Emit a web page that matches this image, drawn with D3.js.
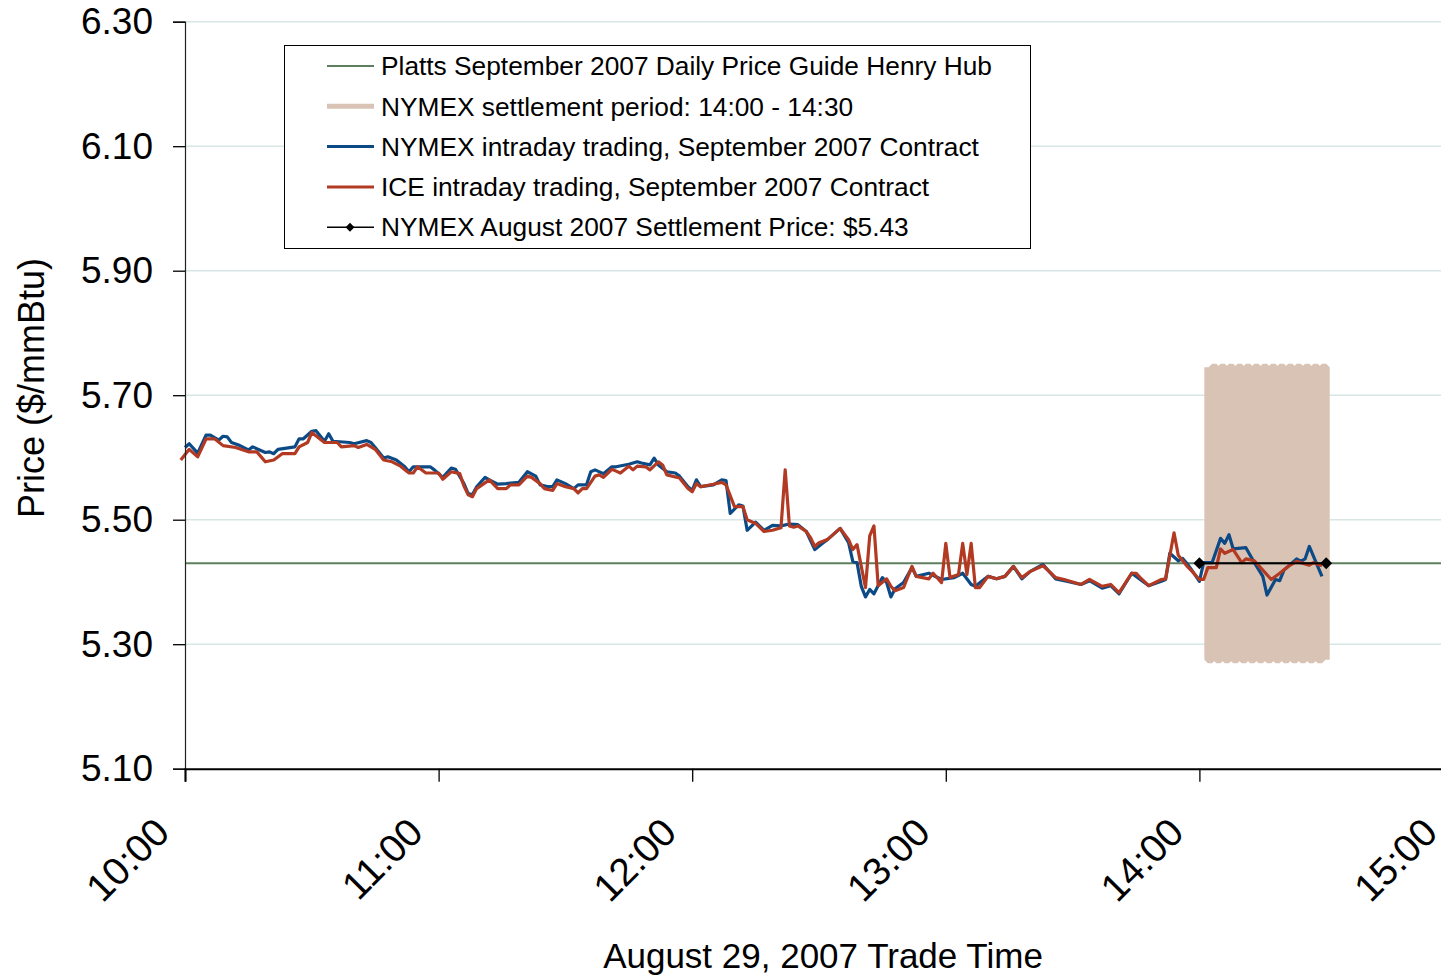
<!DOCTYPE html>
<html>
<head>
<meta charset="utf-8">
<script src="https://cdn.jsdelivr.net/npm/d3@7"></script>
<style>
  body { margin: 0; background: #fff; }
  svg { display: block; font-family: "Liberation Sans", Arial, sans-serif; }
</style>
</head>
<body>
<svg id="chart" width="1441" height="977"></svg>
<script>
// ---- data ----
var yTicks = [5.10, 5.30, 5.50, 5.70, 5.90, 6.10, 6.30];
var xTicks = ["10:00", "11:00", "12:00", "13:00", "14:00", "15:00"];

var plattsPrice = 5.43;
var augSettle = 5.43;
var settleTimes = ["14:00", "14:30"];

// NYMEX intraday trading, September 2007 Contract
var nymexTimes = ["10:00","10:01","10:03","10:05","10:06","10:08","10:09","10:10","10:11","10:13","10:15","10:16","10:19","10:20","10:21","10:22","10:26","10:27","10:28","10:30","10:31","10:33","10:34","10:35","10:39","10:40","10:43","10:44","10:45","10:47","10:48","10:50","10:52","10:53","10:54","10:58","10:59","11:01","11:03","11:04","11:06","11:07","11:08","11:09","11:11","11:12","11:14","11:16","11:19","11:21","11:23","11:24","11:26","11:27","11:28","11:30","11:32","11:33","11:35","11:36","11:37","11:39","11:41","11:42","11:45","11:47","11:48","11:50","11:51","11:52","11:54","11:56","11:57","11:59","12:00","12:01","12:02","12:05","12:07","12:08","12:09","12:11","12:12","12:13","12:15","12:17","12:19","12:21","12:23","12:25","12:27","12:29","12:31","12:32","12:35","12:37","12:38","12:39","12:40","12:41","12:42","12:43","12:45","12:46","12:47","12:48","12:50","12:52","12:53","12:56","12:59","13:02","13:04","13:06","13:07","13:10","13:12","13:14","13:16","13:18","13:20","13:23","13:26","13:28","13:32","13:34","13:37","13:39","13:41","13:44","13:46","13:48","13:51","13:52","13:53","13:55","13:56","13:57","13:58","14:00","14:01","14:03","14:05","14:06","14:07","14:08","14:11","14:13","14:15","14:16","14:18","14:19","14:20","14:23","14:24","14:25","14:26","14:29"];
var nymexPrices = [5.616,5.622,5.607,5.636,5.636,5.628,5.634,5.633,5.624,5.619,5.612,5.617,5.608,5.609,5.606,5.613,5.617,5.630,5.630,5.642,5.643,5.626,5.638,5.626,5.624,5.622,5.627,5.624,5.616,5.599,5.601,5.596,5.585,5.577,5.585,5.585,5.580,5.568,5.583,5.581,5.558,5.542,5.540,5.553,5.568,5.564,5.557,5.558,5.560,5.577,5.570,5.556,5.553,5.553,5.564,5.558,5.550,5.556,5.556,5.577,5.580,5.574,5.585,5.585,5.589,5.593,5.591,5.588,5.599,5.588,5.577,5.575,5.570,5.553,5.547,5.564,5.553,5.556,5.564,5.563,5.510,5.524,5.522,5.483,5.496,5.483,5.491,5.490,5.493,5.492,5.481,5.452,5.463,5.468,5.486,5.463,5.433,5.431,5.393,5.376,5.388,5.381,5.407,5.399,5.376,5.389,5.399,5.423,5.409,5.414,5.404,5.407,5.414,5.396,5.393,5.409,5.405,5.409,5.425,5.405,5.417,5.428,5.405,5.402,5.396,5.402,5.390,5.394,5.381,5.414,5.404,5.394,5.401,5.404,5.446,5.434,5.438,5.430,5.421,5.401,5.431,5.431,5.470,5.462,5.476,5.453,5.455,5.431,5.409,5.379,5.404,5.402,5.419,5.437,5.433,5.437,5.457,5.409];

// ICE intraday trading, September 2007 Contract
var iceTimes = ["09:59","10:01","10:03","10:05","10:07","10:09","10:12","10:15","10:17","10:19","10:21","10:23","10:26","10:27","10:29","10:30","10:33","10:36","10:37","10:40","10:41","10:43","10:45","10:47","10:49","10:51","10:53","10:54","10:55","10:57","11:00","11:01","11:03","11:05","11:06","11:07","11:08","11:09","11:12","11:14","11:16","11:17","11:19","11:21","11:22","11:24","11:25","11:27","11:28","11:30","11:32","11:33","11:34","11:35","11:37","11:38","11:39","11:41","11:42","11:43","11:45","11:46","11:47","11:49","11:50","11:52","11:53","11:54","11:57","11:59","12:00","12:01","12:02","12:05","12:07","12:08","12:10","12:12","12:13","12:15","12:17","12:19","12:21","12:22","12:23","12:24","12:25","12:27","12:28","12:29","12:30","12:32","12:35","12:37","12:38","12:39","12:40","12:41","12:42","12:43","12:44","12:46","12:47","12:48","12:50","12:52","12:53","12:56","12:57","12:59","13:00","13:01","13:03","13:04","13:05","13:06","13:07","13:08","13:10","13:12","13:14","13:16","13:18","13:20","13:23","13:26","13:28","13:32","13:34","13:37","13:39","13:41","13:44","13:45","13:46","13:48","13:51","13:52","13:54","13:55","13:57","13:58","14:00","14:01","14:02","14:04","14:05","14:06","14:08","14:10","14:11","14:13","14:15","14:17","14:19","14:21","14:23","14:24","14:26","14:27","14:29"];
var icePrices = [5.596,5.613,5.601,5.630,5.630,5.619,5.616,5.609,5.609,5.593,5.596,5.606,5.606,5.617,5.624,5.640,5.624,5.624,5.617,5.619,5.616,5.621,5.613,5.596,5.593,5.586,5.575,5.575,5.585,5.575,5.575,5.565,5.577,5.574,5.554,5.540,5.537,5.550,5.564,5.550,5.550,5.556,5.556,5.570,5.568,5.558,5.550,5.547,5.558,5.553,5.550,5.543,5.550,5.550,5.570,5.572,5.568,5.581,5.578,5.575,5.586,5.580,5.586,5.585,5.580,5.593,5.588,5.572,5.567,5.550,5.545,5.558,5.553,5.557,5.560,5.556,5.521,5.521,5.500,5.494,5.481,5.483,5.487,5.580,5.490,5.488,5.490,5.481,5.471,5.457,5.463,5.468,5.486,5.468,5.452,5.460,5.425,5.391,5.474,5.490,5.394,5.405,5.393,5.386,5.391,5.425,5.409,5.405,5.414,5.399,5.462,5.407,5.412,5.462,5.412,5.462,5.391,5.391,5.409,5.405,5.409,5.425,5.407,5.417,5.426,5.407,5.404,5.396,5.404,5.393,5.396,5.383,5.414,5.414,5.407,5.394,5.404,5.405,5.479,5.443,5.426,5.419,5.404,5.404,5.423,5.423,5.453,5.446,5.452,5.431,5.437,5.434,5.419,5.404,5.414,5.425,5.433,5.431,5.427,5.431,5.426];

// NYMEX settlement period 14:00 - 14:30 (drawn as a dense square wave of vertical strokes)
var bandTimes = ["14:02","14:02","14:03","14:03","14:04","14:04","14:05","14:05","14:06","14:06","14:07","14:07","14:08","14:08","14:09","14:09","14:10","14:10","14:11","14:11","14:12","14:12","14:13","14:13","14:14","14:14","14:15","14:15","14:16","14:16","14:17","14:17","14:18","14:18","14:19","14:19","14:20","14:20","14:21","14:21","14:22","14:22","14:23","14:23","14:24","14:24","14:25","14:25","14:26","14:26","14:27","14:27","14:28","14:28","14:29","14:29","14:30","14:30"];
var bandPrices = [5.745,5.275,5.275,5.745,5.745,5.275,5.275,5.745,5.745,5.275,5.275,5.745,5.745,5.275,5.275,5.745,5.745,5.275,5.275,5.745,5.745,5.275,5.275,5.745,5.745,5.275,5.275,5.745,5.745,5.275,5.275,5.745,5.745,5.275,5.275,5.745,5.745,5.275,5.275,5.745,5.745,5.275,5.275,5.745,5.745,5.275,5.275,5.745,5.745,5.275,5.275,5.745,5.745,5.275,5.275,5.745,5.745,5.275];

var legendLabels = [
  "Platts September 2007 Daily Price Guide Henry Hub",
  "NYMEX settlement period: 14:00 - 14:30",
  "NYMEX intraday trading, September 2007 Contract",
  "ICE intraday trading, September 2007 Contract",
  "NYMEX August 2007 Settlement Price: $5.43"
];

// ---- colours ----
var cGreen = "#5e7f5e", cBand = "#d9c3b5", cBlue = "#0c4a86", cRed = "#b33a22", cGrid = "#d8e6e6";

var svg = d3.select("svg"),
    width = +svg.attr("width"),
    height = +svg.attr("height");

var parseT = d3.timeParse("%H:%M");

var x = d3.scaleTime()
    .domain([parseT("10:00"), parseT("15:00")])
    .range([185, 1453]);
var y = d3.scaleLinear()
    .domain([5.10, 6.30])
    .range([768.7, 21.7]);

function zip(times, prices) {
    return times.map(function(t, i) { return { t: parseT(t), v: prices[i] }; });
}

var line = d3.line()
    .x(function(d) { return x(d.t); })
    .y(function(d) { return y(d.v); });

// gridlines
svg.append("g")
    .selectAll("line")
    .data(yTicks.slice(1))
    .enter().append("line")
    .attr("x1", 185).attr("x2", width)
    .attr("y1", function(d) { return y(d); })
    .attr("y2", function(d) { return y(d); })
    .attr("stroke", cGrid)
    .attr("stroke-width", 1.5);

// settlement band
svg.append("path")
    .datum(zip(bandTimes, bandPrices))
    .attr("d", line)
    .attr("fill", "none")
    .attr("stroke", cBand)
    .attr("stroke-width", 7)
    .attr("stroke-linejoin", "bevel");

// platts
svg.append("line")
    .attr("x1", 185).attr("x2", width)
    .attr("y1", y(plattsPrice)).attr("y2", y(plattsPrice))
    .attr("stroke", cGreen)
    .attr("stroke-width", 2);

// intraday lines
svg.append("path")
    .datum(zip(nymexTimes, nymexPrices))
    .attr("d", line)
    .attr("fill", "none")
    .attr("stroke", cBlue)
    .attr("stroke-width", 3.2)
    .attr("stroke-linejoin", "round");

svg.append("path")
    .datum(zip(iceTimes, icePrices))
    .attr("d", line)
    .attr("fill", "none")
    .attr("stroke", cRed)
    .attr("stroke-width", 3.2)
    .attr("stroke-linejoin", "round");

// august settlement
var settle = settleTimes.map(function(t) { return { t: parseT(t), v: augSettle }; });
svg.append("path")
    .datum(settle)
    .attr("d", line)
    .attr("stroke", "#000")
    .attr("stroke-width", 2);
svg.append("g")
    .selectAll("path")
    .data(settle)
    .enter().append("path")
    .attr("d", d3.symbol().type(d3.symbolDiamond2).size(90))
    .attr("transform", function(d) { return "translate(" + x(d.t) + "," + y(d.v) + ")"; })
    .attr("fill", "#000");

// axes
var yAxis = svg.append("g")
    .attr("transform", "translate(185,0)")
    .call(d3.axisLeft(y).tickValues(yTicks).tickFormat(d3.format(".2f")).tickSize(12).tickPadding(20));
var xAxis = svg.append("g")
    .attr("transform", "translate(0,768.7)")
    .call(d3.axisBottom(x).tickValues(xTicks.map(parseT)).tickFormat(d3.timeFormat("%H:%M")).tickSize(13));

yAxis.select(".domain").attr("stroke", "#222").attr("stroke-width", 1.2);
xAxis.select(".domain").attr("stroke", "#000").attr("stroke-width", 2);
svg.selectAll(".tick line").attr("stroke", "#000").attr("stroke-width", 1.3);

yAxis.selectAll("text")
    .attr("font-size", 37)
    .attr("fill", "#000")
    .attr("font-family", "Liberation Sans, Arial, sans-serif");

xAxis.selectAll("text")
    .attr("font-size", 39)
    .attr("fill", "#000")
    .attr("font-family", "Liberation Sans, Arial, sans-serif")
    .attr("text-anchor", "end")
    .attr("dy", 0)
    .attr("y", 0)
    .attr("transform", "translate(-14,66) rotate(-45)");

// axis titles
svg.append("text")
    .attr("transform", "translate(44,388) rotate(-90)")
    .attr("text-anchor", "middle")
    .attr("font-size", 36)
    .text("Price ($/mmBtu)");

svg.append("text")
    .attr("x", 823).attr("y", 968)
    .attr("text-anchor", "middle")
    .attr("font-size", 35)
    .text("August 29, 2007 Trade Time");

// legend
var legend = svg.append("g");
legend.append("rect")
    .attr("x", 284.5).attr("y", 45.5)
    .attr("width", 746).attr("height", 203)
    .attr("fill", "#fff")
    .attr("stroke", "#000")
    .attr("stroke-width", 1);

var legendStyle = [
    { c: cGreen, w: 2 },
    { c: cBand, w: 5 },
    { c: cBlue, w: 3 },
    { c: cRed, w: 3 },
    { c: "#000", w: 1.5 }
];

var item = legend.selectAll("g.item")
    .data(legendLabels)
    .enter().append("g")
    .attr("class", "item")
    .attr("transform", function(d, i) { return "translate(0," + (66 + i * 40.3) + ")"; });

item.append("line")
    .attr("x1", 327).attr("x2", 374)
    .attr("stroke", function(d, i) { return legendStyle[i].c; })
    .attr("stroke-width", function(d, i) { return legendStyle[i].w; });

item.filter(function(d, i) { return i == 4; })
    .append("path")
    .attr("d", d3.symbol().type(d3.symbolDiamond2).size(50))
    .attr("transform", "translate(350,0)")
    .attr("fill", "#000");

item.append("text")
    .attr("x", 381)
    .attr("dy", "0.35em")
    .attr("font-size", 26.3)
    .text(function(d) { return d; });
</script>
</body>
</html>
